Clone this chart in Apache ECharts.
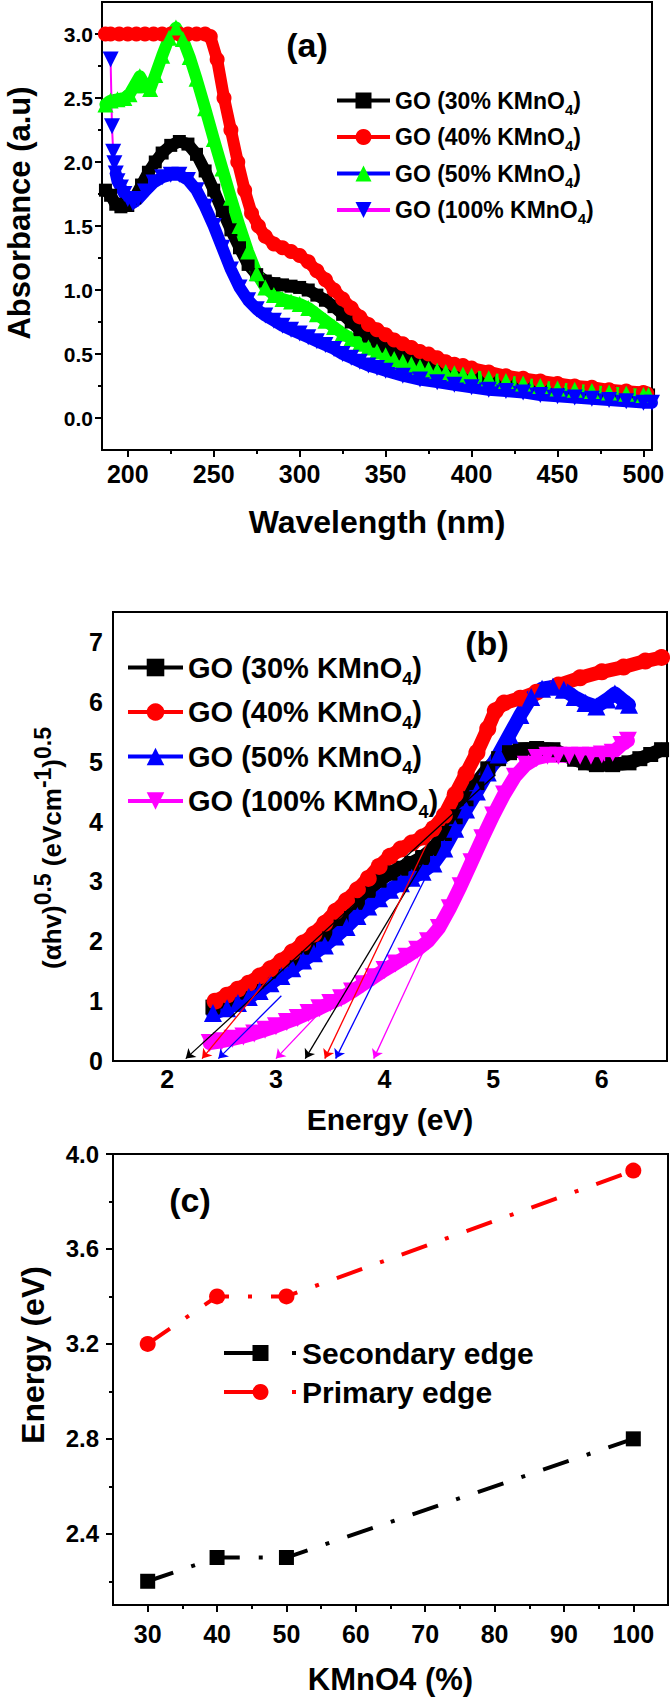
<!DOCTYPE html>
<html><head><meta charset="utf-8">
<script src="https://cdn.jsdelivr.net/npm/echarts@6/dist/echarts.min.js"></script>
<style>html,body{margin:0;padding:0;background:#fff}#c{width:670px;height:1703px}</style>
</head><body><div id="c"></div>
<script>
// ---------- DATA ----------
const seriesNames = ['GO (30% KMnO4)', 'GO (40% KMnO4)', 'GO (50% KMnO4)', 'GO (100% KMnO4)'];

// (a) absorbance vs wavelength [nm, a.u]
const absGO30 = [[187,1.78],[190,1.74],[193,1.67],[196,1.65],[200,1.66],[204,1.72],[208,1.82],[212,1.92],[216,2.0],[220,2.07],[225,2.13],[230,2.16],[235,2.14],[240,2.06],[245,1.93],[250,1.78],[255,1.62],[260,1.47],[265,1.33],[270,1.2],[275,1.12],[280,1.07],[285,1.05],[290,1.04],[295,1.03],[300,1.02],[305,1.0],[310,0.96],[315,0.92],[320,0.87],[325,0.81],[330,0.75],[335,0.69],[340,0.64],[345,0.6],[350,0.56],[355,0.53],[360,0.5],[365,0.47],[370,0.44],[375,0.42],[380,0.4],[385,0.38],[390,0.36],[395,0.35],[400,0.34],[410,0.31],[420,0.29],[430,0.27],[440,0.25],[450,0.23],[460,0.22],[470,0.21],[480,0.2],[490,0.19],[500,0.18],[503,0.18]];
const absGO40 = [[187,3.0],[190,3.0],[195,3.0],[200,3.0],[205,3.0],[210,3.0],[215,3.0],[220,3.0],[225,3.0],[230,3.0],[235,3.0],[240,3.0],[245,3.0],[248,2.98],[252,2.8],[256,2.5],[260,2.25],[264,2.0],[268,1.78],[272,1.6],[276,1.5],[280,1.42],[285,1.36],[290,1.33],[295,1.3],[300,1.27],[305,1.22],[310,1.15],[315,1.08],[320,1.0],[325,0.93],[330,0.86],[335,0.79],[340,0.73],[345,0.69],[350,0.65],[355,0.61],[360,0.58],[365,0.55],[370,0.52],[375,0.5],[380,0.47],[385,0.44],[390,0.42],[395,0.41],[400,0.39],[410,0.36],[420,0.33],[430,0.31],[440,0.29],[450,0.27],[460,0.25],[470,0.24],[480,0.22],[490,0.21],[500,0.2],[502,0.19]];
const absGO50 = [[187,2.45],[190,2.48],[194,2.49],[198,2.5],[201,2.53],[204,2.6],[207,2.67],[210,2.6],[213,2.57],[216,2.68],[220,2.83],[224,2.97],[228,3.05],[232,2.96],[236,2.82],[240,2.65],[245,2.42],[250,2.18],[255,1.95],[260,1.72],[265,1.5],[270,1.3],[275,1.13],[280,1.02],[285,0.96],[290,0.93],[295,0.91],[300,0.89],[305,0.86],[310,0.81],[315,0.76],[320,0.71],[325,0.66],[330,0.62],[335,0.58],[340,0.55],[345,0.52],[350,0.49],[355,0.46],[360,0.44],[365,0.42],[370,0.4],[375,0.38],[380,0.37],[385,0.36],[390,0.35],[395,0.34],[400,0.33],[410,0.31],[420,0.29],[430,0.27],[440,0.25],[450,0.23],[460,0.22],[470,0.21],[480,0.2],[490,0.19],[500,0.18],[503,0.18]];
const absGO100 = [[190,2.8],[190.8,2.28],[191.5,2.08],[192.2,1.99],[193,1.91],[194,1.85],[196,1.8],[198,1.75],[200,1.71],[203,1.68],[206,1.71],[210,1.77],[215,1.84],[220,1.88],[225,1.9],[230,1.9],[235,1.86],[240,1.78],[245,1.65],[250,1.5],[255,1.33],[260,1.16],[265,1.02],[270,0.92],[275,0.85],[280,0.8],[285,0.76],[290,0.72],[295,0.69],[300,0.66],[305,0.63],[310,0.6],[315,0.57],[320,0.54],[325,0.5],[330,0.47],[335,0.44],[340,0.41],[345,0.39],[350,0.37],[360,0.33],[370,0.3],[380,0.28],[390,0.26],[400,0.24],[410,0.22],[420,0.21],[430,0.2],[440,0.18],[450,0.17],[460,0.16],[470,0.15],[480,0.14],[490,0.13],[500,0.12],[505,0.12]];

// (b) Tauc plot [eV, (αhv)^0.5]
const taucGO30 = [[2.42,0.9],[2.55,1.0],[2.7,1.15],[2.85,1.32],[3.0,1.5],[3.15,1.7],[3.3,1.9],[3.45,2.12],[3.6,2.38],[3.75,2.65],[3.85,2.85],[3.95,3.02],[4.05,3.14],[4.15,3.22],[4.25,3.3],[4.35,3.4],[4.45,3.55],[4.55,3.8],[4.65,4.08],[4.75,4.38],[4.85,4.65],[4.95,4.88],[5.05,5.05],[5.15,5.15],[5.25,5.2],[5.4,5.22],[5.55,5.2],[5.65,5.12],[5.75,5.04],[5.85,4.98],[5.95,4.95],[6.1,4.95],[6.25,4.98],[6.35,5.05],[6.45,5.12],[6.55,5.2]];
const taucGO40 = [[2.44,1.0],[2.55,1.1],[2.65,1.2],[2.75,1.3],[2.85,1.42],[2.95,1.54],[3.05,1.67],[3.15,1.82],[3.25,1.97],[3.35,2.12],[3.45,2.3],[3.55,2.5],[3.65,2.68],[3.75,2.86],[3.85,3.05],[3.95,3.25],[4.05,3.42],[4.15,3.54],[4.25,3.64],[4.35,3.74],[4.45,3.88],[4.55,4.1],[4.65,4.45],[4.75,4.8],[4.85,5.15],[4.95,5.55],[5.02,5.85],[5.1,5.98],[5.25,6.06],[5.4,6.16],[5.6,6.28],[5.8,6.4],[6.0,6.5],[6.2,6.58],[6.4,6.68],[6.55,6.74]];
const taucGO50 = [[2.42,0.8],[2.55,0.88],[2.65,0.97],[2.75,1.07],[2.85,1.17],[2.95,1.3],[3.05,1.42],[3.15,1.55],[3.25,1.68],[3.35,1.8],[3.45,1.93],[3.55,2.08],[3.65,2.24],[3.75,2.42],[3.85,2.58],[3.95,2.72],[4.05,2.86],[4.15,2.97],[4.25,3.06],[4.35,3.16],[4.45,3.3],[4.55,3.55],[4.65,3.88],[4.75,4.2],[4.85,4.5],[4.95,4.82],[5.05,5.12],[5.15,5.45],[5.25,5.78],[5.35,6.08],[5.45,6.22],[5.55,6.25],[5.65,6.2],[5.75,6.08],[5.85,5.98],[5.95,5.92],[6.05,6.04],[6.12,6.14],[6.2,6.02],[6.25,5.95]];
const taucGO100 = [[2.39,0.3],[2.5,0.33],[2.6,0.37],[2.7,0.41],[2.8,0.46],[2.9,0.52],[3.0,0.58],[3.1,0.65],[3.2,0.72],[3.3,0.8],[3.4,0.88],[3.5,0.97],[3.6,1.05],[3.7,1.16],[3.8,1.28],[3.9,1.4],[4.0,1.52],[4.1,1.63],[4.2,1.74],[4.3,1.86],[4.4,2.0],[4.5,2.22],[4.6,2.55],[4.7,2.92],[4.8,3.32],[4.9,3.72],[5.0,4.1],[5.1,4.45],[5.2,4.75],[5.3,4.95],[5.4,5.06],[5.5,5.1],[5.6,5.1],[5.7,5.1],[5.8,5.1],[5.9,5.1],[6.0,5.12],[6.1,5.15],[6.18,5.28],[6.24,5.35]];

// (b) extrapolation arrows [[start],[end on axis]]
const arrowsGO30 = [[[5.02,4.78],[2.17,0.04]], [[4.57,3.97],[3.27,0.04]]];
const arrowsGO40 = [[[3.1,1.75],[2.32,0.04]], [[4.39,3.63],[3.45,0.04]]];
const arrowsGO50 = [[[3.05,1.09],[2.47,0.04]], [[4.39,3.11],[3.55,0.04]]];
const arrowsGO100 = [[[3.45,0.9],[3.0,0.04]], [[4.39,1.96],[3.9,0.04]]];

// (c) band edges
const kmno4Percent = [30, 40, 50, 100];
const secondaryEdge = [2.2, 2.3, 2.3, 2.8];
const primaryEdge = [3.2, 3.4, 3.4, 3.93];

// tick values
const aXLabels = [200,250,300,350,400,450,500];
const aXMinor = [225,275,325,375,425,475];
const aYLabels = [0,0.5,1.0,1.5,2.0,2.5,3.0];
const aYMinor = [0.25,0.75,1.25,1.75,2.25,2.75];
const bXLabels = [2,3,4,5,6];
const bYLabels = [0,1,2,3,4,5,6,7];
const cXLabels = [30,40,50,60,70,80,90,100];
const cXMinor = [35,45,55,65,75,85,95];
const cYLabels = [2.4,2.8,3.2,3.6,4.0];
const cYMinor = [2.2,2.6,3.0,3.4,3.8];

// ---------- STYLE ----------
const FONT = 'Arial, "Liberation Sans", Helvetica, sans-serif';
const AX = {color:'#000', width:2};
const DOWN_TRI = 'path://M0,0 L10,0 L5,9 Z';

function mainAxis(grid, min, max, labels, ticks, extra) {
  const ax = {
    type:'value', gridIndex:grid, min:min, max:max,
    axisLine:{show:true, onZero:false, lineStyle:AX},
    axisTick: ticks ? {show:true, customValues:ticks, length:7, inside:false, lineStyle:AX} : {show:false},
    axisLabel:{customValues:labels, color:'#000', fontFamily:FONT, fontWeight:'bold'},
    splitLine:{show:false}, minorTick:{show:false}
  };
  for (const k in extra) {
    if (k === 'axisLabel') Object.assign(ax.axisLabel, extra[k]); else ax[k] = extra[k];
  }
  return ax;
}
function minorAxis(grid, min, max, ticks, position) {
  return {type:'value', gridIndex:grid, min:min, max:max, position:position,
    axisLine:{show:false, onZero:false},
    axisTick:{show:true, customValues:ticks, length:4, lineStyle:AX},
    axisLabel:{show:false}, splitLine:{show:false}};
}
function nameStyle(size) {
  return {fontSize:size, fontWeight:'bold', fontFamily:FONT, color:'#000'};
}
function subFormatter(name) {
  const p = name.split('KMnO4');
  return '{t|' + p[0] + 'KMnO}{s|4}{t|' + p[1] + '}';
}
function txt(size, lh, va) {
  return {fontSize:size, fontWeight:'bold', fontFamily:FONT, color:'#000', fill:'#000', lineHeight:lh, verticalAlign:va};
}
function vText(x, y, text, size) {
  return {type:'text', x:x, y:y, rotation:Math.PI/2,
    style:{text:text, fontSize:size, fontWeight:'bold', fontFamily:FONT, fill:'#000', align:'center', verticalAlign:'middle'}};
}

// (a) styles
const aMarker = [['rect',13,'#000000'],['circle',15,'#ff0000'],['triangle',16,'#00ff00'],[DOWN_TRI,16,'#0000ff']];
const aLine = ['#000000','#ff0000','#0000ff','#ff00ff'];
const aData = [absGO30, absGO40, absGO50, absGO100];
// (b) styles
const bMarker = [['rect',15,'#000000'],['circle',17,'#ff0000'],['triangle',18,'#0000ff'],[DOWN_TRI,18,'#ff00ff']];
const bData = [taucGO30, taucGO40, taucGO50, taucGO100];
const bArrows = [arrowsGO30, arrowsGO40, arrowsGO50, arrowsGO100];

const series = [];
aData.forEach((d, i) => {
  series.push({
    type:'line', name:seriesNames[i], xAxisIndex:0, yAxisIndex:0, data:d,
    symbol:aMarker[i][0], symbolSize:aMarker[i][1], showAllSymbol:true,
    itemStyle:{color:aMarker[i][2]}, lineStyle:{color:aLine[i], width:2},
    emphasis:{disabled:true}
  });
  series.push({
    type:'line', name:'band-a-' + i, xAxisIndex:0, yAxisIndex:0,
    data: i === 3 ? d.slice(4) : d,
    symbol:'none', lineStyle:{color:aMarker[i][2], width:12, cap:'round', join:'round'},
    emphasis:{disabled:true}
  });
});
bData.forEach((d, i) => {
  series.push({
    type:'line', name:seriesNames[i], xAxisIndex:2, yAxisIndex:2, data:d,
    symbol:bMarker[i][0], symbolSize:bMarker[i][1], showAllSymbol:true,
    itemStyle:{color:bMarker[i][2]},
    lineStyle:{color:bMarker[i][2], width:14, cap:'round', join:'round'},
    emphasis:{disabled:true},
    markLine:{
      silent:true, symbol:['none','arrow'], symbolSize:9,
      label:{show:false}, emphasis:{disabled:true},
      lineStyle:{color:bMarker[i][2], width:1.3, type:'solid'},
      data: bArrows[i].map(a => [{coord:a[0]}, {coord:a[1]}])
    }
  });
});
const cDash = [27, 19, 4, 19];
series.push({
  type:'line', name:'Secondary edge', xAxisIndex:3, yAxisIndex:3,
  data: kmno4Percent.map((k, i) => [k, secondaryEdge[i]]),
  symbol:'rect', symbolSize:15, itemStyle:{color:'#000'},
  lineStyle:{color:'#000', width:4, type:cDash}, emphasis:{disabled:true}
});
series.push({
  type:'line', name:'Primary edge', xAxisIndex:3, yAxisIndex:3,
  data: kmno4Percent.map((k, i) => [k, primaryEdge[i]]),
  symbol:'circle', symbolSize:16, itemStyle:{color:'#ff0000'},
  lineStyle:{color:'#ff0000', width:4, type:cDash}, emphasis:{disabled:true}
});

const gridStyle = {show:true, borderColor:'#000', borderWidth:2, backgroundColor:'transparent', containLabel:false};

const option = {
  animation:false,
  backgroundColor:'#fff',
  grid:[
    Object.assign({left:102, top:2, width:550, height:448}, gridStyle),
    Object.assign({left:113, top:612, width:554, height:449}, gridStyle),
    Object.assign({left:113, top:1154, width:555, height:451}, gridStyle)
  ],
  xAxis:[
    mainAxis(0, 185, 505, aXLabels, aXLabels, {
      axisLabel:{fontSize:25, margin:11},
      name:'Wavelength (nm)', nameLocation:'middle', nameGap:56, nameTextStyle:nameStyle(32)}),
    minorAxis(0, 185, 505, aXMinor, 'bottom'),
    mainAxis(1, 1.5, 6.6, bXLabels, null, {
      axisLabel:{fontSize:25, margin:5},
      name:'Energy (eV)', nameLocation:'middle', nameGap:43, nameTextStyle:nameStyle(30)}),
    mainAxis(2, 25, 105, cXLabels, cXLabels, {
      axisLabel:{fontSize:25, margin:16},
      name:'KMnO4 (%)', nameLocation:'middle', nameGap:59, nameTextStyle:nameStyle(31)}),
    minorAxis(2, 25, 105, cXMinor, 'bottom')
  ],
  yAxis:[
    mainAxis(0, -0.25, 3.25, aYLabels, aYLabels, {
      axisLabel:{fontSize:21, margin:9, formatter:v => Number(v).toFixed(1)}}),
    minorAxis(0, -0.25, 3.25, aYMinor, 'left'),
    mainAxis(1, 0, 7.5, bYLabels, null, {
      axisLabel:{fontSize:25, margin:10}}),
    mainAxis(2, 2.1, 4.0, cYLabels, cYLabels, {
      axisLabel:{fontSize:24, margin:14, formatter:v => Number(v).toFixed(1)}}),
    minorAxis(2, 2.1, 4.0, cYMinor, 'left')
  ],
  legend:[
    {
      orient:'vertical', left:335, top:89, padding:0, itemWidth:53, itemHeight:20, itemGap:9,
      selectedMode:false, formatter:subFormatter,
      textStyle:{color:'#000', rich:{ t:txt(23, 32, 'middle'), s:txt(15, 15, 'bottom') }},
      data: seriesNames.map((n, i) => ({name:n, itemStyle:{color:aMarker[i][2]}, lineStyle:{color:aLine[i], width:4}}))
    },
    {
      orient:'vertical', left:126, top:653, padding:0, itemWidth:55, itemHeight:22, itemGap:10,
      selectedMode:false, formatter:subFormatter,
      textStyle:{color:'#000', rich:{ t:txt(29, 40, 'middle'), s:txt(18, 18, 'bottom') }},
      data: seriesNames.map((n, i) => ({name:n, itemStyle:{color:bMarker[i][2]}, lineStyle:{color:bMarker[i][2], width:4}}))
    },
    {
      orient:'vertical', left:222, top:1338, padding:0, itemWidth:73, itemHeight:20, itemGap:9,
      selectedMode:false,
      textStyle:{fontSize:30, fontWeight:'bold', fontFamily:FONT, color:'#000'},
      data:[
        {name:'Secondary edge', itemStyle:{color:'#000'}, lineStyle:{color:'#000', width:4, type:[44,24,4,20]}},
        {name:'Primary edge', itemStyle:{color:'#ff0000'}, lineStyle:{color:'#ff0000', width:4, type:[44,24,4,20]}}
      ]
    }
  ],
  graphic:[
    {type:'text', x:307, y:45, style:{text:'(a)', fontSize:34, fontWeight:'bold', fontFamily:FONT, fill:'#000', align:'center', verticalAlign:'middle'}},
    {type:'text', x:487, y:643, style:{text:'(b)', fontSize:34, fontWeight:'bold', fontFamily:FONT, fill:'#000', align:'center', verticalAlign:'middle'}},
    {type:'text', x:190, y:1200, style:{text:'(c)', fontSize:34, fontWeight:'bold', fontFamily:FONT, fill:'#000', align:'center', verticalAlign:'middle'}},
    // y-axis titles
    vText(19, 213, 'Absorbance (a.u)', 31),
    vText(33, 1355, 'Energy (eV)', 32),
    {type:'text', x:52, y:848, rotation:Math.PI/2,
      style:{text:'{m|(αhv)}{s|0.5}{m| (eVcm}{s|-1}{m|)}{s|0.5}', align:'center', verticalAlign:'middle',
        rich:{ m:txt(26, 42, 'middle'), s:txt(23, 10, 'top') }}}
  ],
  series:series
};

const chart = echarts.init(document.getElementById('c'), null, {renderer:'svg', width:670, height:1703});
chart.setOption(option);
</script></body></html>
